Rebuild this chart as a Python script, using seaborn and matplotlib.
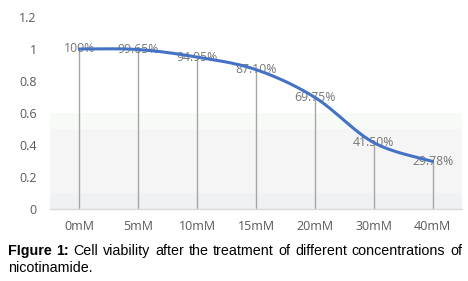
import numpy as np
import pandas as pd
import matplotlib
matplotlib.use("Agg")
import matplotlib.pyplot as plt
import seaborn as sns

categories = ["0mM", "5mM", "10mM", "15mM", "20mM", "30mM", "40mM"]
viability = [1.0, 0.9965, 0.9495, 0.871, 0.6975, 0.415, 0.2978]
labels = ["100%", "99.65%", "94.95%", "87.10%", "69.75%", "41.50%", "29.78%"]
yticks = [0, 0.2, 0.4, 0.6, 0.8, 1.0, 1.2]
ytick_labels = ["0", "0.2", "0.4", "0.6", "0.8", "1", "1.2"]
caption_bold = "FIgure 1:"
caption_line1 = "Cell viability after the treatment of different concentrations of"
caption_line2 = "nicotinamide."

sns.set_theme(style="white")
plt.rcParams['font.family'] = ['Open Sans', 'DejaVu Sans']

W, H = 468, 281
fig = plt.figure(figsize=(W / 100, H / 100), dpi=100)
ax = fig.add_axes([50 / W, 1 - 209 / H, 412 / W, 192 / H])

df = pd.DataFrame({"conc": categories, "v": viability, "x": np.arange(len(categories))})

# background bands
ax.axhspan(0.5, 0.6, color="#f7fbf5", zorder=0, lw=0)
ax.axhspan(0.1, 0.5, color="#f5f5f5", zorder=0, lw=0)
ax.axhspan(0.0, 0.1, color="#eff1f5", zorder=0, lw=0)

# drop lines
ax.vlines(df["x"], 0, df["v"], color="#a6a6a6", lw=1, zorder=1)

# smoothed line (Catmull-Rom style, like Excel smoothing)
xs = df["x"].to_numpy(dtype=float)
ys = df["v"].to_numpy(dtype=float)
px = np.concatenate([[xs[0]], xs, [xs[-1]]])
py = np.concatenate([[ys[0]], ys, [ys[-1]]])
cx, cy = [], []
t = np.linspace(0, 1, 30)
for i in range(1, len(px) - 2):
    p0, p1, p2, p3 = (np.array([px[j], py[j]]) for j in (i - 1, i, i + 1, i + 2))
    c1 = p1 + (p2 - p0) / 6
    c2 = p2 - (p3 - p1) / 6
    seg = ((1 - t) ** 3)[:, None] * p1 + (3 * (1 - t) ** 2 * t)[:, None] * c1 \
        + (3 * (1 - t) * t ** 2)[:, None] * c2 + (t ** 3)[:, None] * p2
    cx.extend(seg[:, 0]); cy.extend(seg[:, 1])
curve = pd.DataFrame({"x": cx, "y": cy})

# value labels (under the line)
for xi, yi, lab in zip(xs, ys, labels):
    ax.text(xi, yi, lab, ha="center", va="center", fontsize=8.8, color="#767676", zorder=2)

sns.lineplot(data=curve, x="x", y="y", sort=False, color="#4472C4", lw=2.2, ax=ax, zorder=3)

ax.set_xlim(-0.5, len(categories) - 0.5)
ax.set_ylim(0, 1.2)
ax.set_xticks(xs)
ax.set_xticklabels(categories, fontsize=9, color="#595959")
ax.set_yticks(yticks)
ax.set_yticklabels(ytick_labels, fontsize=9, color="#595959")
ax.tick_params(axis="x", length=0, pad=8)
ax.tick_params(axis="y", length=0, pad=9.5)
ax.set_xlabel("")
ax.set_ylabel("")
for s in ["left", "right", "top"]:
    ax.spines[s].set_visible(False)
ax.spines["bottom"].set_color("#d9d9d9")
ax.spines["bottom"].set_linewidth(1)
ax.patch.set_alpha(0)

# caption, justified first line
fig.canvas.draw()
r = fig.canvas.get_renderer()
words = [(w, "bold") for w in caption_bold.split()] + \
        [(w, "normal") for w in caption_line1.split()]
x0, x1 = 8 / W, 462 / W
y1 = 1 - 251 / H
cap_font = ['Liberation Sans', 'DejaVu Sans']
cap_size = 10.3
texts = []
for w, wt in words:
    tt = fig.text(0, y1, w, fontsize=cap_size, fontweight=wt, family=cap_font, va="center", ha="left", color="#000000")
    texts.append(tt)
widths = [tt.get_window_extent(r).width / W for tt in texts]
gap = (x1 - x0 - sum(widths)) / (len(texts) - 1)
xp = x0
for tt, wd in zip(texts, widths):
    tt.set_x(xp)
    xp += wd + gap
fig.text(x0, 1 - 268 / H, caption_line2, fontsize=cap_size, family=cap_font, va="center", ha="left", color="#000000")

fig.savefig("out.png", dpi=100)
